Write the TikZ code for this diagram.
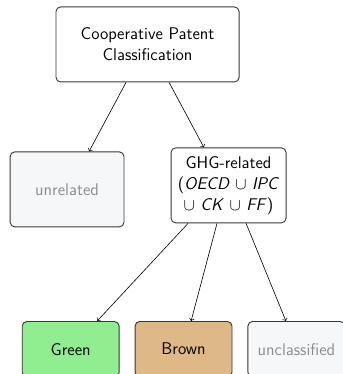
\documentclass[tikz,border=0pt]{standalone}
\usepackage{tikz}
\usetikzlibrary{
  shapes,
  positioning,
  arrows
}
\definecolor{greenfill}{RGB}{144,238,144}
\definecolor{brownfill}{RGB}{222,184,135}
\definecolor{greyfill}{RGB}{246,247,249}
\definecolor{greytext}{RGB}{138,140,145}
\definecolor{boxline}{RGB}{55,55,55}

\tikzset{
  box/.style={draw=boxline,line width=0.6pt,rounded corners=3pt,align=center,
    font=\sffamily\fontsize{11}{13.6}\selectfont,minimum height=48.75pt},
  greybox/.style={box,fill=greyfill,text=greytext},
  leafbox/.style={minimum width=63pt,minimum height=36pt}
}

\begin{document}
\begin{tikzpicture}[node distance = 1cm]
    \node[box,minimum width=119pt] (cpc) at (0,0) {Cooperative Patent\\Classification};
    \useasboundingbox (-95.9pt,28.9pt) rectangle (126.4pt,-214.2pt);
    \node[greybox,below = 44.85pt of cpc,xshift=-52.3pt,minimum width=74pt] (unrel) {unrelated};
    \node[box,below = 42.25pt of cpc,xshift=52.65pt,minimum width=74.75pt,inner sep=1.5pt] (ghg)
      {GHG-related\\(\textit{OECD} $\cup$ \textit{IPC}\\$\cup$ \textit{CK} $\cup$ \textit{FF})};
    \node[box,leafbox,fill=brownfill,below = 63.5pt of ghg,xshift=-29.25pt] (brown) {Brown};
    \node[box,leafbox,fill=greenfill,left = 9.75pt of brown] (green) {Green};
    \node[greybox,leafbox,right = 9.75pt of brown] (uncl) {unclassified};

    \draw[->] ([xshift=-14pt]cpc.south) -- ([xshift=14.3pt]unrel.north);
    \draw[->] ([xshift=14pt]cpc.south) -- ([xshift=-16pt]ghg.north);
    \draw[->] ([xshift=-26.3pt]ghg.south) -- ([xshift=17.2pt]green.north);
    \draw[->] ([xshift=-7.5pt]ghg.south) -- ([xshift=4.9pt]brown.north);
    \draw[->] ([xshift=11.4pt]ghg.south) -- ([xshift=-6.8pt]uncl.north);
  \end{tikzpicture}
\end{document}
